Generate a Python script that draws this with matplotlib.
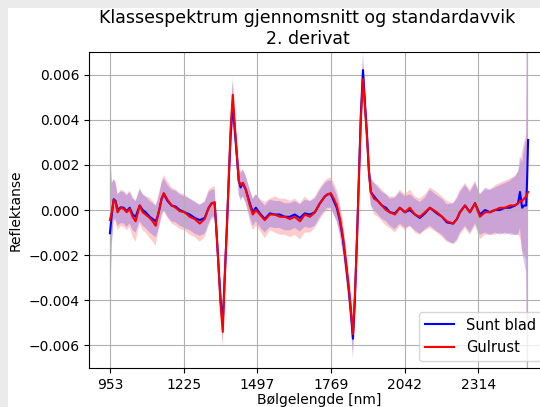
import matplotlib
matplotlib.use("Agg")
import matplotlib.pyplot as plt
import numpy as np

# Bølgelengder (nm) og gjennomsnitt / standardavvik for 2. derivat
wavelength = [953, 960, 967, 974, 981, 993, 1004, 1015, 1026, 1037, 1048, 1063, 1074, 1085,
              1100, 1111, 1122, 1129, 1137, 1144, 1152, 1159, 1166, 1181, 1196, 1211, 1229,
              1248, 1266, 1285, 1303, 1318, 1329, 1340, 1348, 1355, 1362, 1370, 1377, 1385,
              1392, 1399, 1407, 1414, 1422, 1429, 1436, 1444, 1455, 1470, 1481, 1492, 1507,
              1525, 1544, 1562, 1581, 1599, 1618, 1636, 1655, 1673, 1692, 1710, 1729, 1747,
              1758, 1769, 1780, 1791, 1803, 1814, 1825, 1836, 1843, 1851, 1858, 1866, 1873,
              1880, 1888, 1895, 1903, 1910, 1917, 1929, 1943, 1958, 1973, 1987, 2006, 2024,
              2043, 2061, 2080, 2098, 2117, 2135, 2161, 2180, 2198, 2221, 2235, 2246, 2265,
              2283, 2302, 2320, 2339, 2357, 2376, 2394, 2413, 2431, 2450, 2461, 2468, 2476,
              2483, 2491, 2494, 2498]

sunt_mean = [-0.00103, -0.0002, 0.00048, 0.0004, 0.0, 0.00012, 0.0001, -0.00005, 0.0001,
             -0.0002, -0.0003, 0.0002, 0.0, -0.0001, -0.0003, -0.0004, -0.0005, -0.0003,
             0.0001, 0.0005, 0.0007, 0.00055, 0.0004, 0.0002, 0.00015, 0.0, -0.0001, -0.0002,
             -0.00035, -0.00045, -0.00035, 0.0001, 0.0003, 0.0003, -0.0012, -0.0026, -0.0040,
             -0.0050, -0.0030, -0.0008, 0.0013, 0.0033, 0.0047, 0.0036, 0.0024, 0.0013, 0.0010,
             0.0012, 0.0009, 0.0003, -0.0001, 0.0001, -0.00015, -0.0004, -0.00015, -0.0002,
             -0.0002, -0.0003, -0.0003, -0.0002, -0.00035, -0.00015, -0.0002, -0.0001, 0.0003,
             0.0006, 0.0007, 0.0007, 0.0004, 0.0001, -0.0005, -0.0013, -0.0024, -0.0036,
             -0.0045, -0.0057, -0.0040, -0.0012, 0.0015, 0.0042, 0.0062, 0.0048, 0.0033,
             0.0017, 0.0008, 0.0006, 0.0004, 0.0002, 0.0001, -0.0001, -0.00015, 0.0001,
             -0.0001, 0.0, -0.0002, -0.00035, -0.00015, 0.0001, -0.00015, -0.0003, -0.00055,
             -0.0006, -0.0004, -0.0001, 0.0002, -0.0001, 0.0003, -0.0002, 0.0, -0.0001, 0.0,
             0.0, 0.0001, 0.0001, 0.0002, 0.0003, 0.0008, 0.0001, 0.0002, 0.0002, 0.0012,
             0.0031]

gulrust_mean = [-0.00045, -0.0001, 0.00045, 0.00035, -0.0001, 0.0001, 0.00005, -0.0001,
                0.00005, -0.0003, -0.0005, 0.0002, -0.0001, -0.0002, -0.00035, -0.0005,
                -0.0007, -0.0003, 0.0001, 0.0005, 0.00075, 0.0006, 0.00045, 0.0002, 0.0001,
                -0.00005, -0.0001, -0.0003, -0.0004, -0.0006, -0.0004, 0.0001, 0.0003,
                0.00035, -0.0012, -0.0027, -0.0042, -0.0054, -0.0031, -0.0008, 0.0014, 0.0036,
                0.0051, 0.0038, 0.0025, 0.0013, 0.0011, 0.0012, 0.0009, 0.0002, -0.0002, 0.0,
                -0.0002, -0.00045, -0.0002, -0.0002, -0.0003, -0.0003, -0.0004, -0.0003,
                -0.0005, -0.0002, -0.0003, -0.0001, 0.0003, 0.0006, 0.0007, 0.00075, 0.0005,
                0.0002, -0.0004, -0.0012, -0.0023, -0.0035, -0.0044, -0.0055, -0.0038, -0.0012,
                0.0014, 0.0040, 0.0058, 0.0046, 0.0032, 0.0017, 0.0008, 0.0005, 0.0004, 0.0002,
                0.0, -0.0001, -0.0002, 0.0001, -0.0001, 0.0001, -0.0002, -0.0003, -0.0001,
                0.0001, -0.0001, -0.0003, -0.0005, -0.0006, -0.0004, -0.0001, 0.0002, -0.0001,
                0.0003, -0.0003, -0.0001, -0.0001, 0.0, 0.0001, 0.0001, 0.0002, 0.0002, 0.0003,
                0.0004, 0.0004, 0.0005, 0.0006, 0.0007, 0.0008]

sunt_std = [0.0038, 0.0014, 0.0009, 0.0008, 0.0007, 0.0007, 0.0007, 0.0007, 0.0007, 0.0007,
            0.0007, 0.0007, 0.0007, 0.0007, 0.0007, 0.0007, 0.0007, 0.0007, 0.0007, 0.0007,
            0.0007, 0.0007, 0.0007, 0.0007, 0.0007, 0.0007, 0.0007, 0.0007, 0.0007, 0.0007,
            0.0007, 0.0007, 0.0006, 0.0006, 0.0006, 0.0006, 0.0006, 0.0008, 0.0006, 0.0006,
            0.0006, 0.0007, 0.0010, 0.0007, 0.0006, 0.0006, 0.0006, 0.0006, 0.0006, 0.0006,
            0.0006, 0.0006, 0.0006, 0.0006, 0.0006, 0.0006, 0.0006, 0.0006, 0.0006, 0.0006,
            0.0006, 0.0006, 0.0006, 0.0006, 0.0006, 0.0006, 0.0006, 0.0006, 0.0006, 0.0006,
            0.0006, 0.0006, 0.0006, 0.0006, 0.0007, 0.0009, 0.0007, 0.0006, 0.0006, 0.0007,
            0.0008, 0.0007, 0.0006, 0.0006, 0.0006, 0.0006, 0.0006, 0.0006, 0.0006, 0.0006,
            0.0007, 0.0007, 0.0007, 0.0007, 0.0007, 0.0007, 0.0007, 0.0008, 0.0008, 0.0008,
            0.0008, 0.0009, 0.0009, 0.0009, 0.0009, 0.0009, 0.0009, 0.0009, 0.0010, 0.0010,
            0.0010, 0.0011, 0.0011, 0.0012, 0.0013, 0.0014, 0.0016, 0.0020, 0.0025, 0.0030,
            0.0100, 0.0110]

gulrust_std = [0.0035, 0.0013, 0.0009, 0.0009, 0.0008, 0.0008, 0.0008, 0.0008, 0.0008,
               0.0009, 0.0009, 0.0008, 0.0008, 0.0008, 0.0009, 0.0009, 0.0009, 0.0008,
               0.0008, 0.0008, 0.0008, 0.0008, 0.0008, 0.0008, 0.0008, 0.0008, 0.0008,
               0.0008, 0.0008, 0.0008, 0.0008, 0.0008, 0.0007, 0.0007, 0.0006, 0.0006,
               0.0006, 0.0007, 0.0006, 0.0006, 0.0006, 0.0007, 0.0008, 0.0007, 0.0006,
               0.0006, 0.0006, 0.0006, 0.0006, 0.0007, 0.0007, 0.0007, 0.0007, 0.0008,
               0.0007, 0.0008, 0.0008, 0.0008, 0.0008, 0.0008, 0.0008, 0.0008, 0.0007,
               0.0007, 0.0007, 0.0007, 0.0007, 0.0007, 0.0007, 0.0007, 0.0007, 0.0007,
               0.0007, 0.0007, 0.0007, 0.0008, 0.0007, 0.0006, 0.0006, 0.0007, 0.0008,
               0.0007, 0.0006, 0.0006, 0.0006, 0.0007, 0.0007, 0.0007, 0.0007, 0.0007,
               0.0008, 0.0008, 0.0008, 0.0008, 0.0008, 0.0008, 0.0008, 0.0009, 0.0009,
               0.0009, 0.0009, 0.0009, 0.0010, 0.0010, 0.0010, 0.0010, 0.0010, 0.0010,
               0.0010, 0.0010, 0.0011, 0.0011, 0.0012, 0.0012, 0.0013, 0.0014, 0.0016,
               0.0022, 0.0025, 0.0028, 0.0090, 0.0100]

xtick_pos = [953, 1225, 1497, 1769, 2042, 2314]

wl = np.array(wavelength)
m1, s1 = np.array(sunt_mean), np.array(sunt_std)
m2, s2 = np.array(gulrust_mean), np.array(gulrust_std)

fig = plt.figure(figsize=(5.4, 4.07), dpi=100, facecolor="#ebebeb")
# hvit lerretsflate innenfor den grå rammen
fig.add_artist(plt.Rectangle((8 / 540, 0), 1, 1 - 8 / 407, transform=fig.transFigure,
                             facecolor="white", edgecolor="none", zorder=-1))

ax = fig.add_axes([89 / 540, 1 - 368 / 407, 460 / 540, 316 / 407])

ax.fill_between(wl, m2 - s2, m2 + s2, color="red", alpha=0.2, linewidth=0)
ax.fill_between(wl, m1 - s1, m1 + s1, color="blue", alpha=0.2, linewidth=0)
ax.plot(wl, m1, color="blue", label="Sunt blad")
ax.plot(wl, m2, color="red", label="Gulrust")

ax.set_ylim(-0.007, 0.007)
ax.set_xticks(xtick_pos)
ax.set_xticklabels([str(v) for v in xtick_pos])
ax.grid(True)
ax.set_xlabel("Bølgelengde [nm]", labelpad=1)
ax.set_ylabel("Reflektanse")
t = ax.set_title("Klassespektrum gjennomsnitt og standardavvik\n2. derivat", fontsize=12.5)
t.set_x(0.475)
ax.legend(loc="lower right", fontsize=10.5)

fig.savefig("out.png", dpi=100, facecolor=fig.get_facecolor())
